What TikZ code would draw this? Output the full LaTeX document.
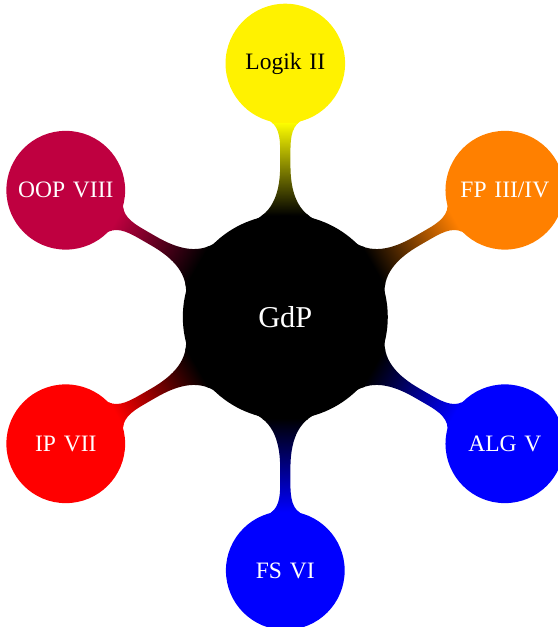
\documentclass[tikz,border=0pt]{standalone}
\usepackage{fontspec}
\setmainfont{Liberation Serif}
\usetikzlibrary{mindmap}
\begin{document}
\begin{tikzpicture}[mindmap, concept color=black, text=white,
  hub/.style={concept, minimum size=4cm, text width=3.5cm, font=\fontsize{17}{20}\selectfont},
  topic/.style={concept, minimum size=2.3cm, text width=2.2cm, font=\fontsize{13.2}{16}\selectfont},
  level 1/.append style={level distance=5cm, sibling angle=60}]
 \useasboundingbox (-5.627,-6.114) rectangle (5.359,6.252);
 \node (gdp) [hub] {GdP}
  [clockwise from=90]
  child[concept color=yellow] {node (logik) [topic, text=black] {Logik II}}
  child[concept color=orange] {node (fp) [topic] {FP III/IV}}
  child[concept color=blue] {node (alg) [topic] {ALG V}}
  child[concept color=blue] {node (fs) [topic] {FS VI}}
  child[concept color=red] {node (ip) [topic] {IP VII}}
  child[concept color=purple] {node (oop) [topic] {OOP VIII}};
\end{tikzpicture}
\end{document}
